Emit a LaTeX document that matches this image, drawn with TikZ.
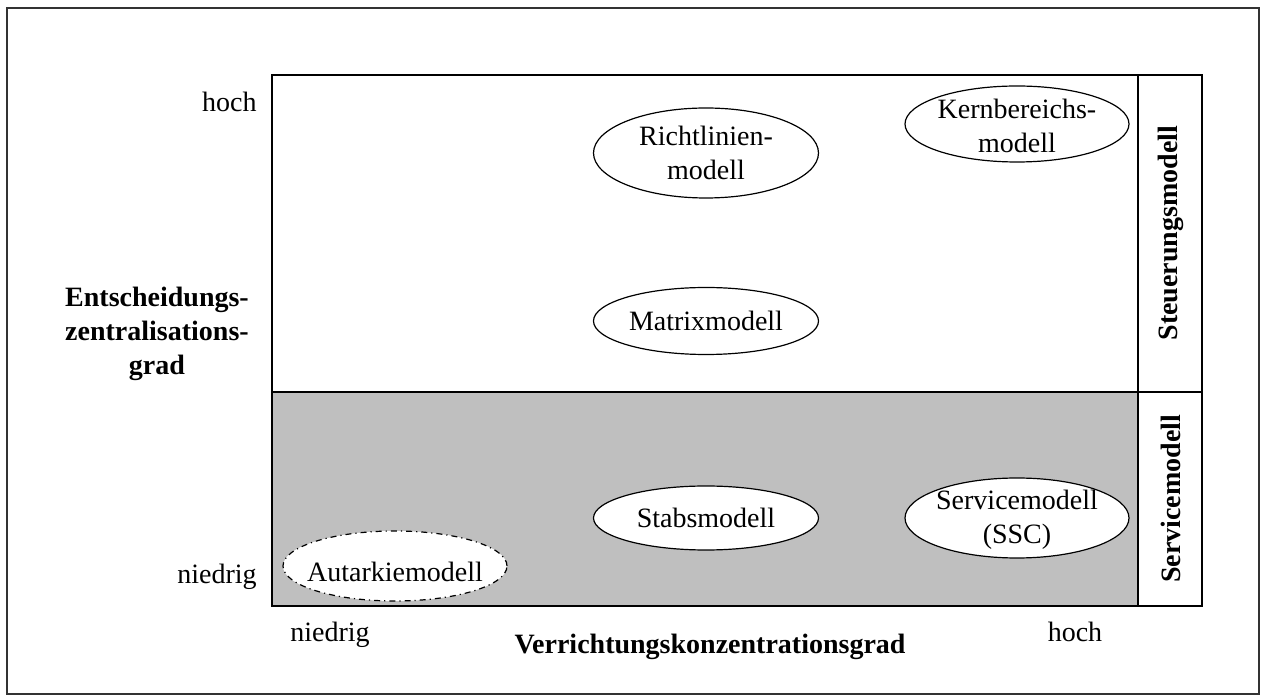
\documentclass[tikz,border=0pt]{standalone}
\usepackage{fontspec}
\setmainfont{Liberation Serif}
\usetikzlibrary{shapes.geometric}
\begin{document}
\begin{tikzpicture}[x=0.5pt,y=-0.5pt,
  every node/.style={font=\fontsize{14}{17}\selectfont},
  frame/.style={draw=black,line width=1pt},
  model/.style={ellipse,draw=black,line width=0.6pt,fill=white,align=center,inner sep=0pt},
  txt/.style={inner sep=0pt,align=center},
  lbl/.style={inner sep=0pt},
  axis/.style={inner sep=0pt,align=center,font=\fontsize{14}{17}\selectfont\bfseries},
  side/.style={inner sep=0pt,rotate=90,font=\fontsize{14}{17}\selectfont\bfseries}]
\useasboundingbox (0,0) rectangle (1264,699);
% outer frame
\draw[draw=black!80,line width=0.8pt] (7,8) rectangle (1259,694);
% grey lower band (service area)
\fill[black!25] (272,392) rectangle (1138,606);
% matrix field and right-hand column
\draw[frame] (272,75) rectangle (1138,606);
\draw[frame] (272,392) -- (1138,392);
\draw[frame] (1138,75) rectangle (1202,606);
\draw[frame] (1138,392) -- (1202,392);
\node[side] (steu) at (1171,233) {Steuerungsmodell};
\node[side] (serv) at (1171,499) {Servicemodell};
% models
\node[model,minimum width=112.5pt,minimum height=45pt] (richt) at (706,153) {Richtlinien-\\modell};
\node[model,minimum width=112pt,minimum height=38pt] (kern) at (1017,124) {};
\node[txt] (kerntext) at ([yshift=-1pt]kern.center) {Kernbereichs-\\modell};
\node[model,minimum width=112.5pt,minimum height=33.5pt] (matrix) at (706,321) {Matrixmodell};
\node[model,minimum width=112.5pt,minimum height=32pt] (stabs) at (706,518) {Stabsmodell};
\node[model,minimum width=112pt,minimum height=40pt] (ssc) at (1017,518) {};
\node[txt] (ssctext) at ([yshift=-1pt]ssc.center) {Servicemodell\\(SSC)};
\node[model,dash dot,minimum width=112pt,minimum height=35pt] (autark) at (395,566) {};
\node[txt] (autarktext) at ([yshift=-3pt]autark.center) {Autarkiemodell};
% axis labels
\node[lbl,anchor=east] (yhi) at (257,102) {hoch};
\node[lbl,anchor=east] (ylo) at (257,577) {niedrig};
\node[axis] (ytitle) at (157,334) {Entscheidungs-\\zentralisations-\\grad};
\node[lbl] (xlo) at (330,635) {niedrig};
\node[lbl] (xhi) at (1075,632) {hoch};
\node[axis] (xtitle) at (710,647) {Verrichtungskonzentrationsgrad};
\end{tikzpicture}
\end{document}
